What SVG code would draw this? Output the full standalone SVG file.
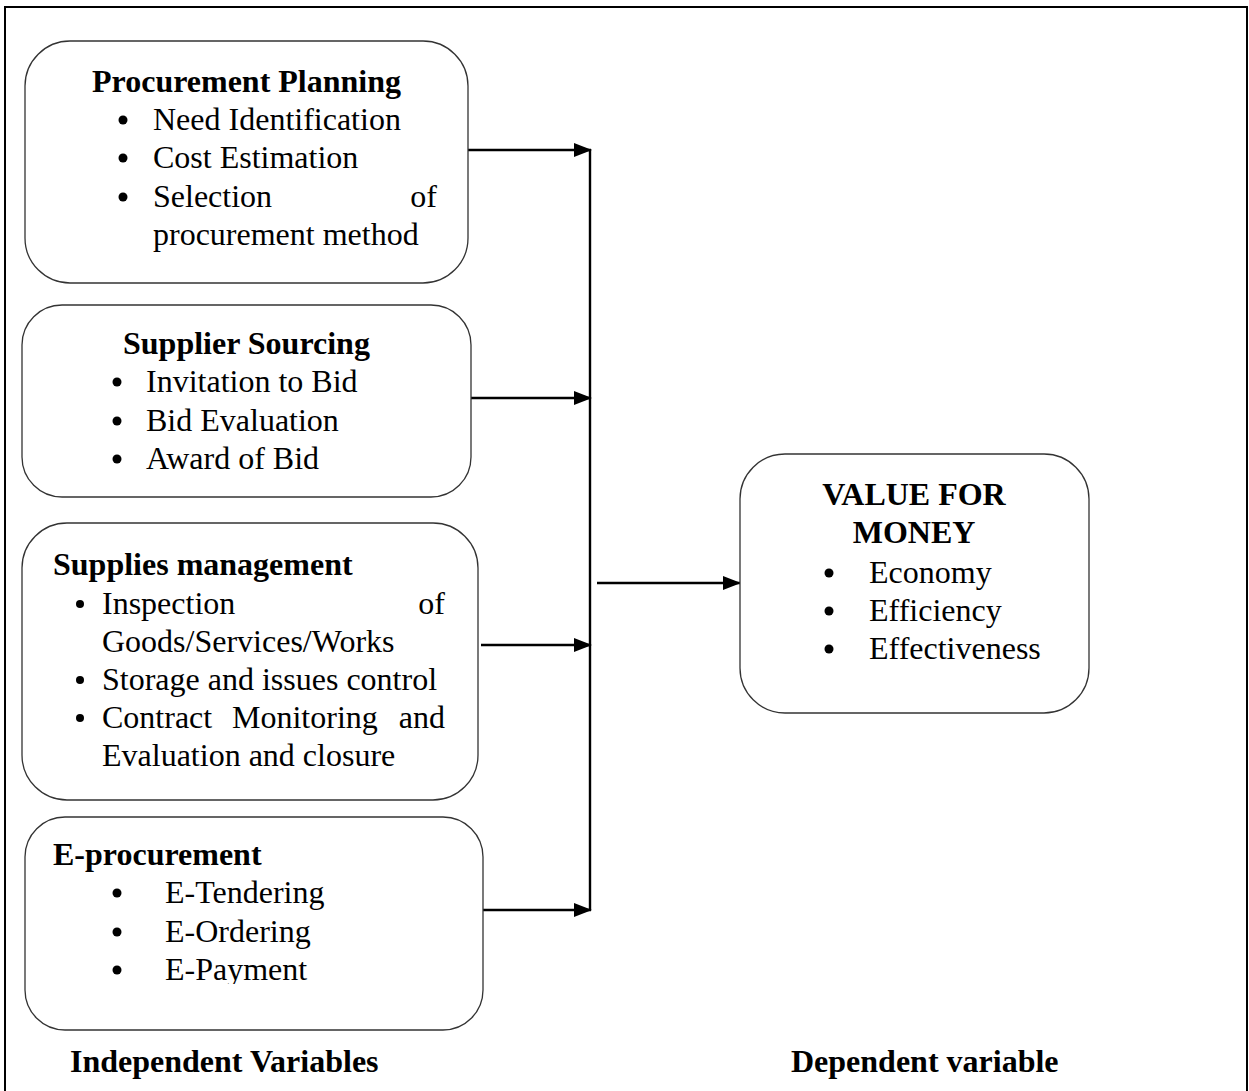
<svg xmlns="http://www.w3.org/2000/svg" width="1249" height="1091" viewBox="0 0 1249 1091">
<style>
.box{fill:#fff;stroke:#333;stroke-width:1.3}
.t{font-family:"Liberation Serif","Times New Roman",serif;font-size:32px;fill:#000}
.b{font-weight:bold}
.c{stroke:#000;stroke-width:2.4;fill:none}
.dot{fill:#000}
</style>
<defs>
<marker id="ah" markerWidth="18" markerHeight="14" refX="17" refY="7" orient="auto" markerUnits="userSpaceOnUse">
<path d="M0,0 L18,7 L0,14 Z" fill="#000"/>
</marker>
<clipPath id="clip4"><rect x="0" y="800" width="600" height="184"/></clipPath>
</defs>
<rect x="5" y="7" width="1242" height="1100" fill="#fff" stroke="#000" stroke-width="2"/>

<g id="connectors">
<line class="c" x1="590" y1="149" x2="590" y2="910"/>
<line class="c" x1="468" y1="150" x2="591" y2="150" marker-end="url(#ah)"/>
<line class="c" x1="471" y1="398" x2="591" y2="398" marker-end="url(#ah)"/>
<line class="c" x1="481" y1="645" x2="591" y2="645" marker-end="url(#ah)"/>
<line class="c" x1="483" y1="910" x2="591" y2="910" marker-end="url(#ah)"/>
<line class="c" x1="597" y1="583" x2="740" y2="583" marker-end="url(#ah)"/>
</g>

<g id="procurement-planning">
<rect class="box" x="25" y="41" width="443" height="242" rx="45"/>
<text class="t b" x="92" y="92">Procurement Planning</text>
<circle class="dot" cx="123" cy="120" r="4.5"/>
<circle class="dot" cx="123" cy="158" r="4.5"/>
<circle class="dot" cx="123" cy="197" r="4.5"/>
<text class="t" x="153" y="130">Need Identification</text>
<text class="t" x="153" y="168">Cost Estimation</text>
<text class="t" x="153" y="207">Selection</text>
<text class="t" x="437" y="207" text-anchor="end">of</text>
<text class="t" x="153" y="245">procurement method</text>
</g>

<g id="supplier-sourcing">
<rect class="box" x="22" y="305" width="449" height="192" rx="40"/>
<text class="t b" x="123" y="354">Supplier Sourcing</text>
<circle class="dot" cx="117" cy="382" r="4.5"/>
<circle class="dot" cx="117" cy="421" r="4.5"/>
<circle class="dot" cx="117" cy="459" r="4.5"/>
<text class="t" x="146" y="392">Invitation to Bid</text>
<text class="t" x="146" y="431">Bid Evaluation</text>
<text class="t" x="146" y="469">Award of Bid</text>
</g>

<g id="supplies-management">
<rect class="box" x="22" y="523" width="456" height="277" rx="45"/>
<text class="t b" x="53" y="575">Supplies management</text>
<circle class="dot" cx="80" cy="604" r="4"/>
<circle class="dot" cx="80" cy="680" r="4"/>
<circle class="dot" cx="80" cy="718" r="4"/>
<text class="t" x="102" y="614">Inspection</text>
<text class="t" x="445" y="614" text-anchor="end">of</text>
<text class="t" x="102" y="652">Goods/Services/Works</text>
<text class="t" x="102" y="690">Storage and issues control</text>
<text class="t" x="102" y="728">Contract</text>
<text class="t" x="232" y="728">Monitoring</text>
<text class="t" x="445" y="728" text-anchor="end">and</text>
<text class="t" x="102" y="766">Evaluation and closure</text>
</g>

<g id="e-procurement">
<rect class="box" x="25" y="817" width="458" height="213" rx="40"/>
<text class="t b" x="53" y="865">E-procurement</text>
<circle class="dot" cx="117" cy="893" r="4.5"/>
<circle class="dot" cx="117" cy="932" r="4.5"/>
<circle class="dot" cx="117" cy="970" r="4.5"/>
<text class="t" x="165" y="903">E-Tendering</text>
<text class="t" x="165" y="942">E-Ordering</text>
<text class="t" x="165" y="980" clip-path="url(#clip4)">E-Payment</text>
</g>

<g id="value-for-money">
<rect class="box" x="740" y="454" width="349" height="259" rx="45"/>
<text class="t b" x="914" y="505" text-anchor="middle">VALUE FOR</text>
<text class="t b" x="914" y="543" text-anchor="middle">MONEY</text>
<circle class="dot" cx="829" cy="573" r="4.5"/>
<circle class="dot" cx="829" cy="611" r="4.5"/>
<circle class="dot" cx="829" cy="649" r="4.5"/>
<text class="t" x="869" y="583">Economy</text>
<text class="t" x="869" y="621">Efficiency</text>
<text class="t" x="869" y="659">Effectiveness</text>
</g>

<g id="labels">
<text class="t b" x="70" y="1072">Independent Variables</text>
<text class="t b" x="791" y="1072">Dependent variable</text>
</g>
</svg>
